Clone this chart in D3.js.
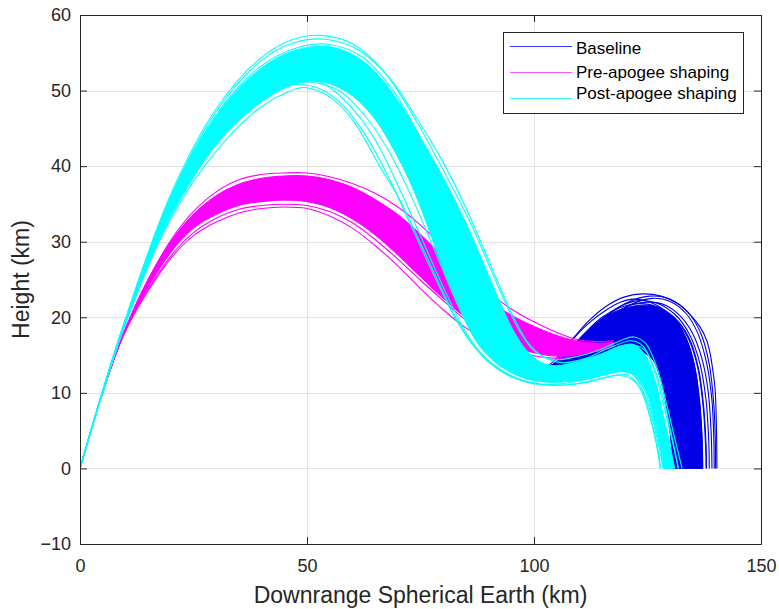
<!DOCTYPE html>
<html><head><meta charset="utf-8">
<script src="https://cdn.jsdelivr.net/npm/d3@7"></script>
<style>
html,body{margin:0;padding:0;background:#fff;}
svg{display:block;}
text{font-family:"Liberation Sans",Arial,Helvetica,sans-serif;}
</style>
</head><body>
<svg id="chart" width="779" height="609"></svg>
<script>
// ---------------- DATA ----------------
const xTicks = [0, 50, 100, 150];
const yTicks = [-10, 0, 10, 20, 30, 40, 50, 60];
const xDomain = [0, 150];
const yDomain = [-10, 60];
const xLabel = "Downrange Spherical Earth (km)";
const yLabel = "Height (km)";
const seriesNames = ["Baseline", "Pre-apogee shaping", "Post-apogee shaping"];

// Baseline (terminal portion, earlier part lies beneath the other runs)
const baseBandOuter = [[99,12.2],[104,13.5],[108,15.8],[112,18.3],[116,20.2],[120,21.2],[124,21.6],[128,21.2],[131,19.8],[133.5,17.3],[135.3,13.8],[136.4,9.5],[137,4.5],[137.2,0]];
const baseBandInner = [[99,11.8],[108,12.8],[114,13.8],[119,15],[123,15.5],[126,14.5],[128,11.5],[129.5,7],[130.3,2.5],[130.5,0]];
const baseTraces = [
  [[99,12.5],[104,14],[108,16.8],[112,19.5],[116,21.5],[120,22.7],[124,23.1],[128,22.8],[132,21.7],[134.5,20.3],[136.6,18.7],[138,17],[138.8,15.2],[139.5,12.5],[139.9,10.4],[140.2,5],[140.3,0]],
  [[99,11.8],[101.5,12.2],[103.6,13],[107.2,16.1],[112,19.2],[116,21],[119,22],[122,22.4],[126,21.9],[130,20.3],[133,17.8],[135,14.5],[136.2,10],[136.9,5],[137.1,0]],
  [[100,12.5],[105,14],[110,16.5],[115,19.3],[120,21.3],[125,22],[129,21.6],[132.5,20],[135,17.8],[137,14.5],[138.3,10.5],[139,5],[139.2,0]],
  [[100,12.2],[105,13.6],[110,16],[115,18.8],[120,20.7],[125,21.3],[129,20.8],[132,19.3],[134.5,16.8],[136.3,13],[137.4,8],[137.9,3],[138,0]],
  [[100,12],[106,13.6],[111,16],[116,18.6],[121,20.2],[125,20.5],[128.5,19.8],[131.5,17.8],[133.5,14.8],[135,10.5],[135.8,5],[136,0]],
  [[100,12],[106,13.3],[112,15.8],[117,18.2],[121.5,19.5],[124.5,19.8],[128,19],[130.8,16.8],[132.8,13.2],[134,8.5],[134.6,3.5],[134.8,0]],
  [[101,12.8],[106,14.2],[111,16.8],[116,19.6],[121,21.6],[126,22.5],[130,22.1],[133.5,20.5],[136,18],[138,14],[139.2,9],[139.6,4],[139.7,0]],
  [[100,11.8],[107,13.2],[113,15.6],[118,17.8],[122,18.8],[125,19],[128,18.2],[130.5,15.8],[132.3,12],[133.2,7],[133.5,0]],
  [[99,12.2],[103,13.2],[107,15.2],[111,17.8],[115,20],[119,21.3],[123,21.8],[127,21.4],[131,19.8],[134,17.2],[136,13.5],[137.2,8.5],[137.8,3],[137.9,0]],
  [[100,12],[105,13.3],[110,15.5],[115,18.3],[119,20],[122.5,20.8],[126,20.2],[128.5,18.2],[130.5,14.5],[131.8,9.5],[132.4,4],[132.5,0]],
  [[101,11.8],[108,13.2],[114,15.5],[119,17.5],[122.5,18.4],[125,18.3],[127.5,16.5],[129.3,12.5],[130.4,7.5],[130.9,2.5],[131,0]],
  [[100,12.6],[105,14.1],[110,16.7],[115,19.6],[120,21.8],[125.5,22.8],[130,22.4],[134,20.6],[136.8,17.8],[138.6,13.8],[139.6,8.5],[139.95,3.5],[140,0]],
  [[99,12.3],[104,13.7],[109,16.3],[114,19.3],[118.5,21.3],[123,22.2],[127,21.9],[131,20.4],[134.2,17.8],[136.5,14],[137.9,9],[138.5,3.5],[138.6,0]]
];

// Pre-apogee shaping
const preBandOuter = [[0,0],[5,10.1],[9,17],[12,21.2],[15,25],[20,30],[25,33.6],[30,36],[35,37.6],[40,38.4],[45,38.7],[50,38.7],[55,38.2],[60,37.2],[65,35.6],[70,33.6],[75,31],[80,28],[85,25],[90,22.3],[95,20.3],[100,18.8],[105,17.6],[110,16.8],[114,16.6],[117.5,16.6]];
const preBandInner = [[0,0],[5,10.1],[9,16.9],[12,20.8],[15,24],[20,28.6],[25,31.8],[30,33.6],[35,34.8],[40,35.3],[45,35.5],[50,35.3],[55,34.5],[60,33],[65,30.9],[70,28.3],[75,25.4],[80,22.5],[85,19.9],[90,17.8],[95,16.3],[100,15.4],[104,15],[108,15],[112,15.4],[117.5,16.2]];
const preTraces = [
  [[0,0],[5,10.1],[9,17],[12,21.3],[15,25],[20,30.2],[25,34],[30,36.6],[35,38.2],[40,38.9],[45,39.1],[50,39.1],[55,38.6],[60,37.7],[65,36.4],[70,34.6],[75,32.2],[80,29.3],[85,26.2],[90,23.3],[95,21.1],[100,19.4],[105,18],[110,17],[114,16.8],[117.5,16.9]],
  [[0,0],[5,10.1],[9,17],[12,21.1],[15,24.8],[20,29.9],[25,33.6],[30,36.1],[35,37.6],[40,38.3],[45,38.6],[50,38.6],[55,38.1],[60,37],[65,35.3],[70,33.2],[75,30.4],[80,27.3],[85,24.3],[90,21.6],[95,19.4],[100,17.9],[105,17],[110,16.5],[114,16.5],[117.5,16.7]],
  [[0,0],[5,10.1],[9,17],[12,21],[15,24.6],[20,29.5],[25,33.1],[30,35.4],[35,36.8],[40,37.5],[45,37.7],[50,37.5],[55,36.8],[60,35.5],[65,33.5],[70,30.8],[75,27.6],[80,24.4],[85,21.5],[90,19.2],[95,17.6],[100,16.5],[105,15.9],[110,15.8],[114,16],[117.5,16.4]],
  [[0,0],[5,10.1],[9,16.9],[12,20.8],[15,24.3],[20,29.1],[25,32.5],[30,34.7],[35,36],[40,36.5],[45,36.6],[50,36.4],[55,35.6],[60,34.1],[65,31.8],[70,29],[75,26],[80,23.2],[85,20.6],[90,18.5],[95,17],[100,16],[105,15.5],[110,15.5],[114,15.8],[117.5,16.3]],
  [[0,0],[5,10.1],[9,16.9],[12,20.7],[15,24],[20,28.7],[25,32],[30,34],[35,35.2],[40,35.7],[45,35.8],[50,35.6],[55,34.8],[60,33.3],[65,31],[70,28.3],[75,25.4],[80,22.6],[85,20],[90,18],[95,16.5],[100,15.5],[105,15.1],[110,15.1],[114,15.5],[117.5,16.2]],
  [[0,0],[5,10.1],[9,16.8],[12,20.5],[15,23.5],[20,27.8],[25,30.8],[30,32.6],[35,33.8],[40,34.4],[45,34.6],[50,34.4],[55,33.4],[60,31.8],[65,29.5],[70,26.8],[75,23.8],[80,21],[85,18.6],[90,16.8],[95,15.6],[100,14.9],[104,14.6],[108,14.7],[112,15.2],[117.5,16.2]],
  [[0,0],[5,10.1],[9,16.85],[12,20.6],[15,23.7],[20,28.1],[25,31.2],[30,33.1],[35,34.3],[40,34.8],[45,34.95],[50,34.8],[55,34],[60,32.5],[65,30.3],[70,27.7],[75,24.9],[80,22.2],[85,19.6],[90,17.6],[95,16.2],[100,15.3],[104,14.9],[108,14.9],[112,15.3],[117.5,16.1]],
  [[0,0],[5,10.1],[9,17],[12,21.1],[15,24.7],[20,29.7],[25,33.4],[30,35.8],[35,37.3],[40,38],[45,38.1],[50,37.8],[55,36.9],[60,35.2],[65,32.6],[70,29.5],[75,26.2],[80,23],[85,20.3],[90,18.3],[95,16.9],[100,16],[105,15.6],[110,15.7],[114,16.1],[117.5,16.6]]
];

// Post-apogee shaping
const postBandOuter = [[0,0],[5,10.25],[10,19.6],[15,28.3],[20,35.7],[25,41.8],[30,46.6],[35,50.3],[40,53],[45,54.8],[50,55.7],[55,55.8],[60,54.8],[65,52.5],[70,48.7],[75,43.8],[80,38.5],[85,32.5],[89,27],[92.5,22],[95.5,18.2],[98.5,15.5],[101.5,14],[105,13.6],[110,14.2],[115,15.2],[119,16.2],[122,16.4],[124.5,15],[126.5,12],[128.5,7],[130,3],[131,0]];
const postBandInner = [[0,0],[5,10.1],[10,19.2],[15,27],[20,33.6],[25,38.7],[30,42.8],[35,46],[40,48.5],[45,50.3],[50,51.2],[55,50.9],[60,49.3],[65,46.2],[70,41.2],[73,37.5],[76,33],[79,28],[82,23.3],[85,19.3],[88,16.2],[92,13.8],[96,12.4],[100,11.6],[105,11.4],[110,11.7],[115,12.3],[119,12.8],[122,12.5],[124.5,10.5],[126.5,6.5],[128,2.5],[128.6,0]];
const postTraces = [
  [[0,0],[5,10.3],[10,19.8],[20,36.3],[30,47.6],[40,54.4],[47,56.8],[53,57.3],[60,56.2],[67,52.5],[74,46],[80,39.5],[86,32.5],[90,27],[94,21.5],[97,18],[100,15.6],[104,14.4],[108,14.6],[114,15.6],[119,16.9],[122,17.4],[124.5,16.6],[127,13.5],[129,9],[131,4],[132.6,0]],
  [[0,0],[5,10.3],[10,19.7],[20,36],[30,47.2],[40,54],[47,56.3],[54,56.8],[61,55.5],[68,51.8],[74,46.5],[80,40.5],[85,34.5],[89,29],[92.5,24],[95.5,20],[98.5,16.8],[102,14.8],[106,14],[111,14.5],[116,15.8],[121.5,16.9],[124,16.2],[126.5,13],[128.5,8.5],[130.5,3.5],[131.8,0]],
  [[0,0],[5,10.25],[10,19.6],[20,35.6],[30,46.3],[40,52.6],[46,54.9],[51,55.5],[57,54.9],[63,52.2],[69,47],[75,39.8],[80,33],[85,26],[89,20.5],[93,16.5],[97,13.8],[101,12.6],[106,12.6],[112,13.4],[117,14.8],[121,15.7],[123.5,15],[126,12],[128,7.5],[129.5,3.5],[130.6,0]],
  [[0,0],[5,10.2],[10,19.5],[20,35.2],[30,45.6],[40,51.7],[45,53.5],[50,54],[56,53.2],[62,50],[68,44.5],[73,38],[78,31],[83,24],[87,19],[91,15.3],[95,13],[100,11.8],[105,11.6],[111,12.2],[116,13.3],[120,14],[123,13.2],[125.5,10],[127.5,5.5],[128.8,0]],
  [[0,0],[5,10.2],[10,19.4],[20,34.8],[30,45],[40,51],[46,52.7],[52,53.1],[58,52.2],[64,48.8],[70,43],[76,35.5],[82,27],[87,20.5],[91,16.5],[95,14],[99,12.8],[104,12.3],[110,12.8],[115,13.8],[119.5,14.8],[122.5,14.5],[125,12],[127.5,7.5],[129.3,3],[130.2,0]],
  [[0,0],[5,10.15],[10,19.3],[20,34.2],[30,44.2],[38,49.6],[44,51.6],[48,51.8],[54,50.8],[60,47.6],[65,43.5],[70,37.5],[75,30.8],[80,24],[85,18],[89,14.8],[94,12.5],[99,11.4],[104,11.1],[110,11.6],[115,12.3],[119,12.9],[122,12.3],[124.5,9.5],[126.5,5.5],[128,1.5],[128.4,0]],
  [[0,0],[5,10.1],[10,19.2],[20,33.8],[30,43.6],[40,49.5],[46,50.9],[51,51.1],[57,50],[63,46.5],[68,42],[73,36],[78,29],[83,22],[87,17.6],[91,14.8],[96,12.6],[101,11.6],[107,11.5],[113,12],[118,12.8],[121.5,12.6],[124,10.8],[126.3,6.5],[128,2],[128.5,0]],
  [[0,0],[5,10.1],[10,19.2],[15,27],[20,33],[25,38],[30,42],[35,45.3],[40,47.9],[45,49.6],[49,50.4],[53,49.8],[57,48.2],[61,45.3],[66,40],[70.5,35.5],[76,28.5],[82.3,20.5],[86,16.8],[89.6,14.3],[94,12.4],[99,11.3],[104,11],[109,11.2],[114,11.8],[118,12.3],[121,12],[123.5,10.5],[125.5,7],[127,3],[127.8,0]],
  [[0,0],[5,10.1],[10,19.1],[20,33.3],[30,43],[38,48.5],[44,50.5],[48,50.8],[53,50.2],[58,48],[63,44],[68,38.5],[73,32],[78,25.5],[83,19.5],[87,16],[91,13.8],[96,12],[101,11.2],[106,11],[112,11.4],[117,12.2],[120.5,12.4],[123,11],[125.5,7],[127.3,2.5],[127.9,0]],
  [[0,0],[5,10.3],[10,19.7],[20,35.9],[30,46.8],[40,53.3],[48,55.7],[55,56.1],[62,54.5],[69,50],[76,42.5],[82,35],[87,28.5],[91,23],[95,18.5],[98,15.8],[102,13.9],[107,13.5],[113,14.3],[118,15.6],[122,16.3],[124.5,15.6],[127,12.5],[129,8],[130.8,3],[131.8,0]]
];

// ---------------- STYLE / LAYOUT ----------------
const colors = {base: "#0000e6", pre: "#ff00ff", post: "#00ffff"};
const legendColors = ["#3a3aff", "#ff55ff", "#33f6ff"];
const W = 779, H = 609;
const plot = {left: 80, top: 15, right: 761, bottom: 544};
const axisColor = "#262626";

const svg = d3.select("#chart");
const x = d3.scaleLinear().domain(xDomain).range([plot.left, plot.right]);
const y = d3.scaleLinear().domain(yDomain).range([plot.bottom, plot.top]);

svg.append("rect").attr("width", W).attr("height", H).attr("fill", "#fff");

// grid
const grid = svg.append("g").attr("stroke", "#e3e3e3").attr("stroke-width", 1);
grid.selectAll("line.gx").data(xTicks.slice(1, -1)).join("line")
  .attr("x1", d => Math.round(x(d)) + 0.5).attr("x2", d => Math.round(x(d)) + 0.5)
  .attr("y1", plot.top).attr("y2", plot.bottom);
grid.selectAll("line.gy").data(yTicks.slice(1, -1)).join("line")
  .attr("y1", d => Math.round(y(d)) + 0.5).attr("y2", d => Math.round(y(d)) + 0.5)
  .attr("x1", plot.left).attr("x2", plot.right);

// clip
svg.append("clipPath").attr("id", "clip").append("rect")
  .attr("x", plot.left).attr("y", plot.top)
  .attr("width", plot.right - plot.left).attr("height", plot.bottom - plot.top);

const lineGen = d3.line().x(d => x(d[0])).y(d => y(d[1])).curve(d3.curveCatmullRom.alpha(0.5));
function bandPath(outer, inner) {
  return lineGen(outer) + "L" + lineGen(inner.slice().reverse()).slice(1) + "Z";
}
const data = svg.append("g").attr("clip-path", "url(#clip)");

function drawGroup(outer, inner, traces, color) {
  const g = data.append("g");
  g.append("path").attr("d", bandPath(outer, inner))
    .attr("fill", color).attr("stroke", color).attr("stroke-width", 1);
  g.selectAll("path.trace").data(traces).join("path")
    .attr("class", "trace").attr("d", lineGen)
    .attr("fill", "none").attr("stroke", color).attr("stroke-width", 1.1);
}
drawGroup(baseBandOuter, baseBandInner, baseTraces, colors.base);
drawGroup(preBandOuter, preBandInner, preTraces, colors.pre);
drawGroup(postBandOuter, postBandInner, postTraces, colors.post);

// axes
function styleAxis(g) {
  g.select(".domain").attr("stroke", axisColor);
  g.selectAll(".tick line").attr("stroke", axisColor);
  g.selectAll(".tick text").attr("fill", axisColor).attr("font-size", 18)
    .attr("font-family", '"Liberation Sans", Arial, sans-serif');
}
svg.append("g").attr("transform", `translate(0,${plot.bottom})`)
  .call(d3.axisBottom(x).tickValues(xTicks).tickSize(-7).tickSizeOuter(0).tickPadding(15))
  .call(styleAxis);
svg.append("g").attr("transform", `translate(0,${plot.top})`)
  .call(d3.axisTop(x).tickValues(xTicks).tickSize(-7).tickSizeOuter(0).tickFormat(""))
  .call(styleAxis);
svg.append("g").attr("transform", `translate(${plot.left},0)`)
  .call(d3.axisLeft(y).tickValues(yTicks).tickSize(-7).tickSizeOuter(0).tickPadding(9))
  .call(styleAxis);
svg.append("g").attr("transform", `translate(${plot.right},0)`)
  .call(d3.axisRight(y).tickValues(yTicks).tickSize(-7).tickSizeOuter(0).tickFormat(""))
  .call(styleAxis);

// axis labels
svg.append("text").attr("x", (plot.left + plot.right) / 2).attr("y", 603)
  .attr("text-anchor", "middle").attr("font-size", 23).attr("fill", axisColor).text(xLabel);
svg.append("text").attr("transform", `translate(29,${(plot.top + plot.bottom) / 2}) rotate(-90)`)
  .attr("text-anchor", "middle").attr("font-size", 23).attr("fill", axisColor).text(yLabel);

// legend
const lg = svg.append("g");
lg.append("rect").attr("x", 503.5).attr("y", 32.5).attr("width", 240).attr("height", 81)
  .attr("fill", "#fff").attr("stroke", axisColor).attr("stroke-width", 1);
const lineYs = [46, 72, 98];
const textYs = [48, 72.5, 93];
seriesNames.forEach((name, i) => {
  lg.append("line").attr("x1", 510).attr("x2", 572).attr("y1", lineYs[i] + 0.5).attr("y2", lineYs[i] + 0.5)
    .attr("stroke", legendColors[i]).attr("stroke-width", 1);
  lg.append("text").attr("x", 576).attr("y", textYs[i]).attr("dy", "0.35em")
    .attr("font-size", 17).attr("fill", "#000").text(name);
});
</script>
</body></html>
